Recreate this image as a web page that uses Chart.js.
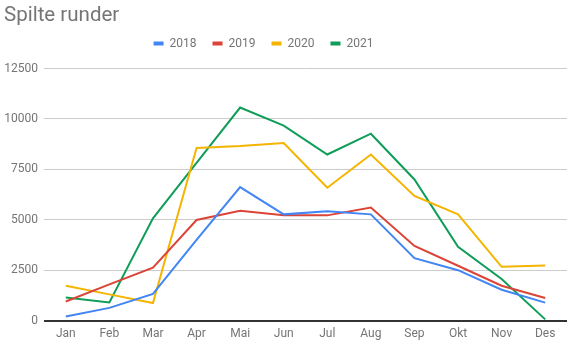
<!DOCTYPE html>
<html>
<head>
<meta charset="utf-8">
<script src="https://cdn.jsdelivr.net/npm/chart.js@4/dist/chart.umd.min.js"></script>
<style>
html,body{margin:0;padding:0;background:#fff;}
#wrap{width:567px;height:347px;position:relative;}
</style>
</head>
<body>
<div id="wrap"><canvas id="c" width="567" height="347"></canvas></div>
<script>
const months = ["Jan","Feb","Mar","Apr","Mai","Jun","Jul","Aug","Sep","Okt","Nov","Des"];
const s2018 = [200, 630, 1320, 4000, 6620, 5270, 5430, 5270, 3100, 2500, 1530, 890];
const s2019 = [950, 1800, 2630, 4990, 5450, 5220, 5220, 5610, 3700, 2720, 1730, 1120];
const s2020 = [1730, 1300, 870, 8560, 8660, 8810, 6590, 8240, 6180, 5270, 2670, 2730];
const s2021 = [1150, 900, 5070, 7820, 10570, 9670, 8240, 9270, 7000, 3660, 2060, 60];
const yTicks = [0, 2500, 5000, 7500, 10000, 12500];

Chart.defaults.font.family = "Roboto, 'Noto Sans', sans-serif";
Chart.defaults.color = "#757575";

function ds(label, data, color){
  return {label, data, borderColor: color, backgroundColor: color, borderWidth: 2,
    pointRadius: 0, pointHoverRadius: 0, tension: 0, fill: false};
}

function shiftBox(b, dx, dy){
  if (!b) return;
  b.left += dx; b.right += dx; b.top += dy; b.bottom += dy;
  if (b.legendHitBoxes) b.legendHitBoxes.forEach(h => { h.left += dx; h.top += dy; });
}

new Chart(document.getElementById('c'), {
  type: 'line',
  data: {
    labels: months,
    datasets: [
      ds("2018", s2018, "#4285F4"),
      ds("2019", s2019, "#DB4437"),
      ds("2020", s2020, "#F4B400"),
      ds("2021", s2021, "#0F9D58")
    ]
  },
  options: {
    responsive: false,
    animation: false,
    layout: {padding: {left: 0, right: 0, top: 4, bottom: 0}},
    plugins: {
      title: {display: true, text: "Spilte runder", align: 'start', color: '#757575',
        font: {size: 20.5, weight: 'normal'}, padding: {top: 2, bottom: 0}},
      legend: {display: true, position: 'top', align: 'center',
        labels: {boxWidth: 10, boxHeight: 4, font: {size: 12}, color: '#757575', padding: 16,
          generateLabels(chart){
            return chart.data.datasets.map((d,i)=>({text: d.label, fillStyle: d.borderColor, strokeStyle: d.borderColor, lineWidth: 0, datasetIndex: i, fontColor:'#757575'}));
          }}
      },
      tooltip: {enabled: false}
    },
    scales: {
      x: {
        offset: true,
        grid: {display: false, drawTicks: false},
        border: {display: false},
        ticks: {font: {size: 12}, color: '#757575', padding: 6, maxRotation: 0}
      },
      y: {
        min: 0, max: 12500,
        afterBuildTicks(scale){ scale.ticks = yTicks.map(v=>({value: v})); },
        afterFit(scale){ scale.width = 44; },
        border: {display: false},
        grid: {drawTicks: false,
          color: c => c.tick && c.tick.value === 0 ? '#333333' : '#cccccc',
          lineWidth: c => c.tick && c.tick.value === 0 ? 2 : 1},
        ticks: {font: {size: 12}, color: '#757575', padding: 6, callback: v => String(v)}
      }
    }
  },
  plugins: [{
    id: 'blockShift',
    afterLayout(chart){
      shiftBox(chart.titleBlock, 4, -2);
      shiftBox(chart.legend, -20, -9);
    }
  }]
});
</script>
</body>
</html>
